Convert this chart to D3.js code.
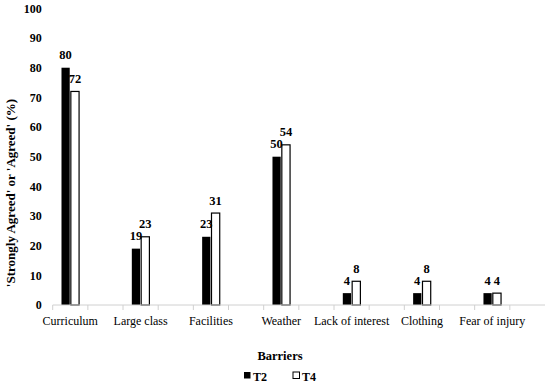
<!DOCTYPE html>
<html>
<head>
<meta charset="utf-8">
<script src="https://cdn.jsdelivr.net/npm/d3@7"></script>
<style>
  body { margin: 0; background: #fff; }
  text { font-family: "Liberation Serif", "DejaVu Serif", serif; }
</style>
</head>
<body>
<svg id="mainSvg" width="550" height="385"></svg>
<script>
var categories = ["Curriculum", "Large class", "Facilities", "Weather", "Lack of interest", "Clothing", "Fear of injury"];
var seriesNames = ["T2", "T4"];
var t2Values = [80, 19, 23, 50, 4, 4, 4];
var t4Values = [72, 23, 31, 54, 8, 8, 4];
var yTicks = [0, 10, 20, 30, 40, 50, 60, 70, 80, 90, 100];

var data = categories.map(function(c, i) {
  return { cat: c, T2: t2Values[i], T4: t4Values[i] };
});

// each category is followed by an empty slot, like the original sheet
var slots = [];
categories.forEach(function(c) { slots.push(c); slots.push(c + "__gap"); });

var svg = d3.select("#mainSvg");
var plotLeft = 52.7, plotRight = 545, plotTop = 8.4, plotBottom = 305;

var x = d3.scaleBand().domain(slots).range([plotLeft, plotRight]);
var x1 = d3.scaleBand().domain(seriesNames)
  .range([x.bandwidth() * 0.25, x.bandwidth() * 0.75]).paddingInner(0.12);
var y = d3.scaleLinear().domain([0, 100]).range([plotBottom, plotTop]);

// y tick labels (no axis line)
var yAxis = svg.append("g")
  .attr("transform", "translate(" + plotLeft + ",0)")
  .call(d3.axisLeft(y).tickValues(yTicks).tickSize(0).tickPadding(11));
yAxis.select(".domain").remove();
yAxis.selectAll("text")
  .style("font-family", "Liberation Serif")
  .style("font-size", "12px")
  .style("font-weight", "bold")
  .attr("fill", "#000");

// bars
var groups = svg.selectAll(".cat")
  .data(data)
  .enter().append("g")
  .attr("class", "cat")
  .attr("transform", function(d) { return "translate(" + x(d.cat) + ",0)"; });

groups.selectAll("rect")
  .data(function(d) { return seriesNames.map(function(s) { return { s: s, v: d[s] }; }); })
  .enter().append("rect")
  .attr("x", function(d) { return x1(d.s); })
  .attr("width", x1.bandwidth())
  .attr("y", function(d) { return y(d.v); })
  .attr("height", function(d) { return y(0) - y(d.v); })
  .attr("fill", function(d) { return d.s === "T2" ? "#000" : "#fff"; })
  .attr("stroke", "#000")
  .attr("stroke-width", function(d) { return d.s === "T2" ? 0 : 1.2; });

groups.selectAll(".lbl")
  .data(function(d) { return seriesNames.map(function(s) { return { s: s, v: d[s] }; }); })
  .enter().append("text")
  .attr("class", "lbl")
  .attr("x", function(d) { return x1(d.s) + x1.bandwidth() / 2; })
  .attr("y", function(d) { return y(d.v) - 8.5; })
  .attr("text-anchor", "middle")
  .style("font-size", "12.5px")
  .style("font-weight", "bold")
  .text(function(d) { return d.v; });

// x axis
var xAxis = svg.append("g")
  .attr("transform", "translate(0," + plotBottom + ")");
xAxis.append("line")
  .attr("x1", plotLeft).attr("x2", plotRight)
  .attr("stroke", "#d0d0d0").attr("stroke-width", 1);
xAxis.selectAll(".tick")
  .data(slots)
  .enter().append("line")
  .attr("x1", function(d) { return x(d); })
  .attr("x2", function(d) { return x(d); })
  .attr("y1", 0).attr("y2", 5)
  .attr("stroke", "#d0d0d0");
xAxis.selectAll(".catlbl")
  .data(categories)
  .enter().append("text")
  .attr("x", function(d) { return x(d) + x.bandwidth() / 2; })
  .attr("y", 20)
  .attr("text-anchor", "middle")
  .style("font-size", "12px")
  .text(function(d) { return d; });

// axis titles
svg.append("text")
  .attr("x", 280).attr("y", 360)
  .attr("text-anchor", "middle")
  .style("font-size", "12.5px").style("font-weight", "bold")
  .text("Barriers");

svg.append("text")
  .attr("transform", "translate(15,193) rotate(-90)")
  .attr("text-anchor", "middle")
  .style("font-size", "13px").style("font-weight", "bold")
  .text("'Strongly Agreed' or 'Agreed' (%)");

// legend
var legend = svg.selectAll(".leg")
  .data(seriesNames)
  .enter().append("g")
  .attr("class", "leg")
  .attr("transform", function(d, i) { return "translate(" + (244 + i * 49) + ",372)"; });
legend.append("rect")
  .attr("width", 6.5).attr("height", 6.5)
  .attr("fill", function(d) { return d === "T2" ? "#000" : "#fff"; })
  .attr("stroke", "#000").attr("stroke-width", function(d) { return d === "T2" ? 0 : 1; });
legend.append("text")
  .attr("x", 9).attr("y", 8.5)
  .style("font-size", "12px").style("font-weight", "bold")
  .text(function(d) { return d; });
</script>
</body>
</html>
